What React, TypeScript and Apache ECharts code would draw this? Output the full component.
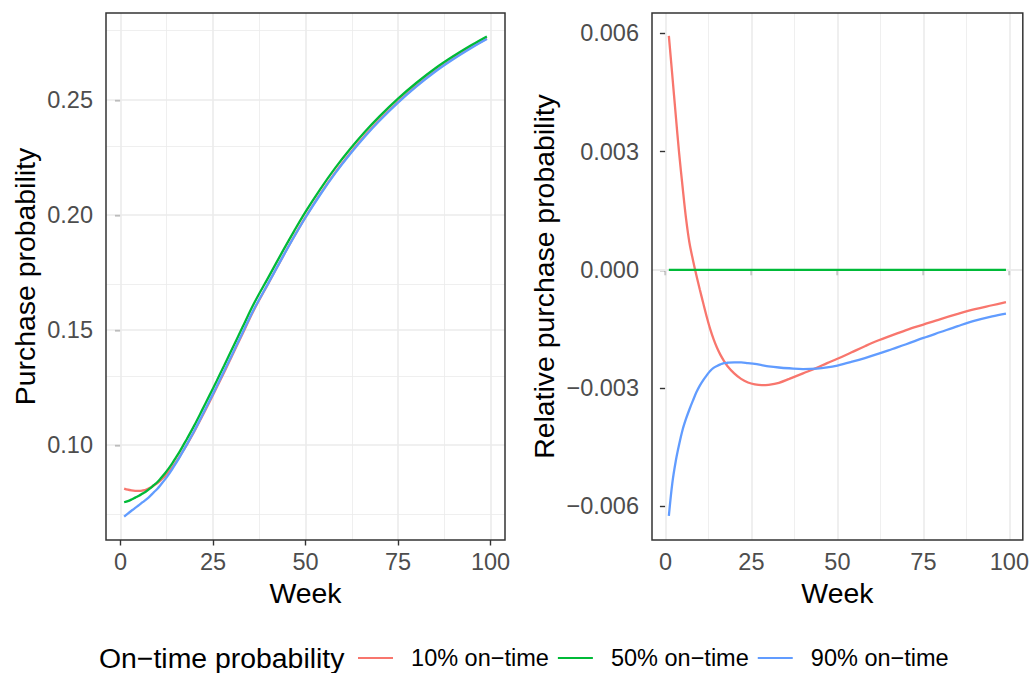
import React, { useEffect, useRef } from "react";
import * as echarts from "echarts";

// ---------- data ----------
const weeks = [1, 2, 3, 4, 5, 6, 7, 8, 9, 10, 11, 12, 13, 14, 15, 16, 17, 18, 20, 22, 24, 26, 28, 30, 33, 36, 40, 44, 47, 50, 54, 58, 62, 66, 70, 75, 80, 85, 90, 95, 99];

const purchase10 = [0.08114, 0.08064, 0.08033, 0.08015, 0.0801, 0.0803, 0.08068, 0.08145, 0.08246, 0.0835, 0.08495, 0.08651, 0.0883, 0.09034, 0.09262, 0.09504, 0.09769, 0.10036, 0.10607, 0.11223, 0.11854, 0.12499, 0.13157, 0.13828, 0.14843, 0.15853, 0.17037, 0.18221, 0.19083, 0.19904, 0.2091, 0.21836, 0.22671, 0.23434, 0.24127, 0.24911, 0.25615, 0.26248, 0.268, 0.273, 0.27668];
const purchase50 = [0.0752, 0.0757, 0.0764, 0.0772, 0.078, 0.079, 0.08, 0.0812, 0.0826, 0.084, 0.0858, 0.0877, 0.0898, 0.0921, 0.0946, 0.0972, 0.1, 0.1028, 0.1087, 0.115, 0.1214, 0.1279, 0.1345, 0.1412, 0.1513, 0.1613, 0.173, 0.1847, 0.1932, 0.2013, 0.2112, 0.2203, 0.2285, 0.236, 0.2428, 0.2505, 0.2574, 0.2636, 0.269, 0.2739, 0.2775];
const purchase90 = [0.06895, 0.07028, 0.07154, 0.07277, 0.07394, 0.07522, 0.07646, 0.07788, 0.07949, 0.08106, 0.083, 0.08502, 0.08723, 0.08961, 0.09216, 0.0948, 0.09763, 0.10044, 0.10635, 0.11265, 0.11903, 0.12551, 0.13208, 0.13875, 0.14882, 0.1588, 0.17048, 0.18219, 0.19072, 0.19887, 0.20886, 0.21806, 0.22637, 0.23399, 0.24091, 0.24877, 0.25582, 0.26217, 0.26771, 0.27272, 0.27639];

const relative10 = [0.00594, 0.00494, 0.00393, 0.00295, 0.0021, 0.0013, 0.00068, 0.00025, -0.00014, -0.0005, -0.00085, -0.00119, -0.0015, -0.00176, -0.00198, -0.00216, -0.00231, -0.00244, -0.00263, -0.00277, -0.00286, -0.00291, -0.00293, -0.00292, -0.00287, -0.00277, -0.00263, -0.00249, -0.00237, -0.00226, -0.0021, -0.00194, -0.00179, -0.00166, -0.00153, -0.00139, -0.00125, -0.00112, -0.001, -0.0009, -0.00082];
const relative50 = [0, 0, 0, 0, 0, 0, 0, 0, 0, 0, 0, 0, 0, 0, 0, 0, 0, 0, 0, 0, 0, 0, 0, 0, 0, 0, 0, 0, 0, 0, 0, 0, 0, 0, 0, 0, 0, 0, 0, 0, 0];
const relative90 = [-0.00625, -0.00542, -0.00486, -0.00443, -0.00406, -0.00378, -0.00354, -0.00332, -0.00311, -0.00294, -0.0028, -0.00268, -0.00257, -0.00249, -0.00244, -0.0024, -0.00237, -0.00236, -0.00235, -0.00235, -0.00237, -0.00239, -0.00242, -0.00245, -0.00248, -0.0025, -0.00252, -0.00251, -0.00248, -0.00243, -0.00234, -0.00224, -0.00213, -0.00201, -0.00189, -0.00173, -0.00158, -0.00143, -0.00129, -0.00118, -0.00111];

const seriesNames = ["10% on\u2212time", "50% on\u2212time", "90% on\u2212time"];
const seriesColors = ["#F8766D", "#00BA38", "#619CFF"];

const xTicks = [0, 25, 50, 75, 100];
const xMinor = [12.5, 37.5, 62.5, 87.5];
const leftYTicks = [0.1, 0.15, 0.2, 0.25];
const leftYMinor = [0.075, 0.125, 0.175, 0.225, 0.275];
const rightYTicks = [-0.006, -0.003, 0, 0.003, 0.006];
const rightYMinor = [-0.0045, -0.0015, 0.0015, 0.0045];

const legendTitle = "On\u2212time probability";
const leftYTitle = "Purchase probability";
const rightYTitle = "Relative purchase probability";
const xTitle = "Week";

// ---------- helpers ----------
const FONT = "Liberation Sans";
const pairs = (ys: number[]) => weeks.map((w, i) => [w, ys[i]]);
const minus = (s: string) => s.replace("-", "\u2212");

function gridLineSeries(gridIdx: number, xs: number[], ys: number[], width: number) {
  return {
    type: "line",
    xAxisIndex: gridIdx,
    yAxisIndex: gridIdx,
    data: [],
    silent: true,
    z: 1,
    markLine: {
      silent: true,
      z: 1,
      symbol: ["none", "none"],
      label: { show: false },
      emphasis: { disabled: true },
      animation: false,
      lineStyle: { type: "solid", color: "#EBEBEB", width },
      data: [...xs.map((v) => ({ xAxis: v })), ...ys.map((v) => ({ yAxis: v }))],
    },
  };
}

function xAxisCfg(gridIndex: number) {
  return {
    gridIndex,
    type: "value",
    min: -3.9,
    max: 103.9,
    axisLine: { show: false },
    axisTick: { show: true, customValues: xTicks, length: 5.5, lineStyle: { color: "#333333", width: 1.4 } },
    axisLabel: { customValues: xTicks, margin: 10, fontSize: 23.5, color: "#4D4D4D", formatter: (v: number) => String(v) },
    splitLine: { show: false },
    name: xTitle,
    nameLocation: "middle",
    nameGap: 37,
    nameTextStyle: { fontSize: 28.4, color: "#000000" },
  };
}

export default function App() {
  const ref = useRef<HTMLDivElement>(null);
  useEffect(() => {
    if (!ref.current) return;
    const chart = echarts.init(ref.current, undefined, { renderer: "svg" });
    const lineSeries = (gridIdx: number, data: number[][], k: number) => ({
      type: "line",
      name: seriesNames[k],
      xAxisIndex: gridIdx,
      yAxisIndex: gridIdx,
      data,
      symbol: "none",
      showSymbol: false,
      smooth: 0.35,
      z: 3,
      lineStyle: { color: seriesColors[k], width: 2.3 },
      itemStyle: { color: seriesColors[k] },
      emphasis: { disabled: true },
    });
    chart.setOption({
      animation: false,
      textStyle: { fontFamily: FONT },
      grid: [
        { left: 106, top: 13, width: 399, height: 527, show: true, borderColor: "#333333", borderWidth: 1.5, z: 5 },
        { left: 652, top: 13, width: 371, height: 527, show: true, borderColor: "#333333", borderWidth: 1.5, z: 5 },
      ],
      xAxis: [xAxisCfg(0), xAxisCfg(1)],
      yAxis: [
        {
          gridIndex: 0,
          type: "value",
          min: 0.0588,
          max: 0.2877,
          axisLine: { show: false },
          axisTick: { show: true, customValues: leftYTicks, length: 5.5, lineStyle: { color: "#333333", width: 1.4 } },
          axisLabel: { customValues: leftYTicks, margin: 13, fontSize: 23.5, color: "#4D4D4D", formatter: (v: number) => minus(v.toFixed(2)) },
          splitLine: { show: false },
          name: leftYTitle,
          nameLocation: "middle",
          nameGap: 67,
          nameTextStyle: { fontSize: 28.4, color: "#000000" },
        },
        {
          gridIndex: 1,
          type: "value",
          min: -0.00686,
          max: 0.00652,
          axisLine: { show: false },
          axisTick: { show: true, customValues: rightYTicks, length: 5.5, lineStyle: { color: "#333333", width: 1.4 } },
          axisLabel: { customValues: rightYTicks, margin: 13, fontSize: 23.5, color: "#4D4D4D", formatter: (v: number) => minus(v.toFixed(3)) },
          splitLine: { show: false },
          name: rightYTitle,
          nameLocation: "middle",
          nameGap: 94,
          nameTextStyle: { fontSize: 28.4, color: "#000000" },
        },
      ],
      legend: {
        data: seriesNames,
        left: 358,
        top: 646,
        padding: 0,
        icon: "rect",
        itemWidth: 35,
        itemHeight: 2.2,
        itemGap: 9,
        selectedMode: false,
        formatter: (name: string) => "\u00A0\u00A0" + name,
        textStyle: { fontSize: 23.5, color: "#000000" },
      },
      graphic: [
        {
          type: "text",
          x: 99,
          y: 658,
          silent: true,
          style: {
            text: legendTitle,
            fontSize: 28.4,
            fontFamily: FONT,
            fill: "#000000",
            align: "left",
            verticalAlign: "middle",
            textAlign: "left",
            textVerticalAlign: "middle",
          },
        },
      ],
      series: [
        gridLineSeries(0, xMinor, leftYMinor, 0.8),
        gridLineSeries(0, xTicks, leftYTicks, 1.6),
        gridLineSeries(1, xMinor, rightYMinor, 0.8),
        gridLineSeries(1, xTicks, rightYTicks, 1.6),
        lineSeries(0, pairs(purchase10), 0),
        lineSeries(0, pairs(purchase50), 1),
        lineSeries(0, pairs(purchase90), 2),
        lineSeries(1, pairs(relative10), 0),
        lineSeries(1, pairs(relative50), 1),
        lineSeries(1, pairs(relative90), 2),
      ],
    });
    return () => chart.dispose();
  }, []);
  return <div ref={ref} style={{ position: "absolute", left: 0, top: 0, width: 1032, height: 673 }} />;
}
